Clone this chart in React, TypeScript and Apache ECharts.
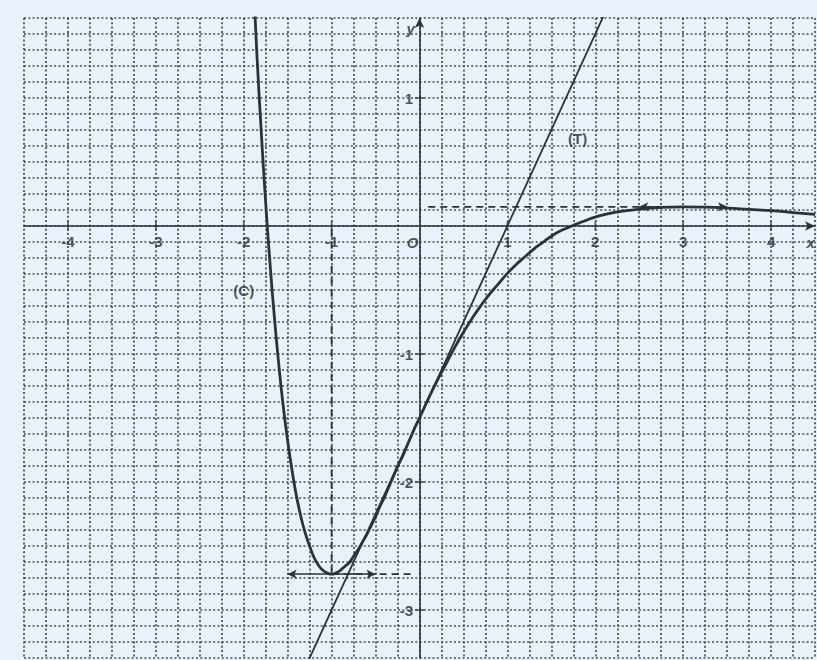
import React, { useEffect, useRef } from "react";
import * as echarts from "echarts";

// Curve (C): points [x, y]
const curveC: [number, number][] = [
  [-1.9, 2.04], [-1.85, 1.34], [-1.8, 0.73], [-1.75, 0.18], [-1.7, -0.3],
  [-1.65, -0.72], [-1.6, -1.09], [-1.55, -1.41], [-1.5, -1.68], [-1.45, -1.91],
  [-1.4, -2.11], [-1.35, -2.27], [-1.3, -2.4], [-1.25, -2.5], [-1.2, -2.59],
  [-1.15, -2.65], [-1.1, -2.69], [-1.05, -2.71], [-1.0, -2.72], [-0.95, -2.71],
  [-0.9, -2.69], [-0.85, -2.66], [-0.8, -2.63], [-0.75, -2.58], [-0.7, -2.53],
  [-0.65, -2.47], [-0.6, -2.41], [-0.55, -2.34], [-0.5, -2.27], [-0.45, -2.19],
  [-0.4, -2.12], [-0.35, -2.04], [-0.3, -1.96], [-0.25, -1.88], [-0.2, -1.81],
  [-0.15, -1.73], [-0.1, -1.65], [-0.05, -1.57], [0, -1.5], [0.1, -1.35],
  [0.2, -1.21], [0.3, -1.08], [0.4, -0.95], [0.5, -0.83], [0.6, -0.72],
  [0.7, -0.62], [0.8, -0.53], [0.9, -0.45], [1.0, -0.37], [1.1, -0.3],
  [1.2, -0.24], [1.3, -0.18], [1.4, -0.13], [1.5, -0.08], [1.6, -0.04],
  [1.7, -0.01], [1.8, 0.02], [1.9, 0.045], [2.0, 0.07], [2.25, 0.11],
  [2.5, 0.13], [2.75, 0.145], [3.0, 0.15], [3.25, 0.147], [3.5, 0.14],
  [3.75, 0.13], [4.0, 0.12], [4.25, 0.105], [4.5, 0.09],
];

// Tangent (T): two points of the straight line
const tangentT: [number, number][] = [[-1.3, -3.45], [2.12, 1.68]];

// Dashed guide lines
const guideMinVertical: [number, number][] = [[-1, -0.03], [-1, -2.72]];
const guideMinHorizontal: [number, number][] = [[-1, -2.72], [-0.05, -2.72]];
const guideMaxHorizontal: [number, number][] = [[0.1, 0.15], [3, 0.15]];

// Double-headed horizontal tangent arrows [x1, x2, y]
const arrowMin = [-1.5, -0.5, -2.72];
const arrowMax = [2.5, 3.5, 0.15];

// Tick marks / tick labels on the axes
const xTickValues = [-4, -3, -2, -1, 1, 2, 3, 4];
const yTickValues = [1, -1, -2, -3];

// Annotations
const annotations = [
  { name: "(C)", value: [-2.0, -0.5] },
  { name: "(T)", value: [1.8, 0.68] },
];
const axisNames = [
  { name: "x", value: [4.45, -0.13] },
  { name: "y", value: [-0.1, 1.54] },
  { name: "O", value: [-0.08, -0.13] },
];

const INK = "#2c3238";
const TEXT = "#262a2f";
const FONT = "Liberation Sans";

export default function App() {
  const ref = useRef<HTMLDivElement>(null);
  useEffect(() => {
    document.body.style.margin = "0";
    const chart = echarts.init(ref.current!, null, { renderer: "svg" });
    const gridLine = { show: true, lineStyle: { color: "#454c54", width: 1.7, type: [2, 2.3] } };
    const axisLine = {
      onZero: true,
      symbol: ["none", "arrow"],
      symbolSize: [7, 10],
      lineStyle: { color: INK, width: 1.6 },
    };
    const option: any = {
      animation: false,
      backgroundColor: "#e9f2fa",
      grid: { left: 24, right: 2, top: 18, bottom: 2, containLabel: false },
      xAxis: {
        type: "value",
        min: -4.5,
        max: 4.5,
        interval: 0.25,
        axisLine,
        axisTick: { show: false },
        axisLabel: { show: false },
        splitLine: gridLine,
      },
      yAxis: {
        type: "value",
        min: -3.375,
        max: 1.625,
        interval: 0.125,
        axisLine,
        axisTick: { show: false },
        axisLabel: { show: false },
        splitLine: gridLine,
      },
      series: [
        {
          name: "C",
          type: "line",
          data: curveC,
          smooth: true,
          showSymbol: false,
          symbol: "none",
          lineStyle: { color: INK, width: 2.8 },
          z: 5,
        },
        {
          name: "T",
          type: "line",
          data: tangentT,
          showSymbol: false,
          symbol: "none",
          lineStyle: { color: INK, width: 1.8 },
          z: 4,
        },
        ...[guideMinVertical, guideMinHorizontal, guideMaxHorizontal].map((d) => ({
          type: "line",
          data: d,
          showSymbol: false,
          symbol: "none",
          lineStyle: { color: INK, width: 1.8, type: [7, 5] },
          z: 3,
        })),
        {
          type: "line",
          data: [],
          markLine: {
            silent: true,
            symbol: ["arrow", "arrow"],
            symbolSize: [7, 9],
            label: { show: false },
            lineStyle: { color: INK, width: 1.5, type: "solid" },
            data: [
              [{ coord: [arrowMin[0], arrowMin[2]] }, { coord: [arrowMin[1], arrowMin[2]] }],
              [{ coord: [arrowMax[0], arrowMax[2]] }, { coord: [arrowMax[1], arrowMax[2]] }],
            ],
          },
          z: 4,
        },
        {
          type: "scatter",
          data: xTickValues.map((v) => [v, 0]),
          symbol: "rect",
          symbolSize: [1.6, 9],
          itemStyle: { color: INK },
          silent: true,
          label: {
            show: true,
            position: "bottom",
            distance: 3,
            formatter: (p: any) => String(p.value[0]),
            color: TEXT,
            fontSize: 15,
            fontWeight: "bold",
            fontFamily: FONT,
          },
          z: 6,
        },
        {
          type: "scatter",
          data: yTickValues.map((v) => [0, v]),
          symbol: "rect",
          symbolSize: [9, 1.6],
          itemStyle: { color: INK },
          silent: true,
          label: {
            show: true,
            position: "left",
            distance: 2,
            formatter: (p: any) => String(p.value[1]),
            color: TEXT,
            fontSize: 15,
            fontWeight: "bold",
            fontFamily: FONT,
          },
          z: 6,
        },
        {
          type: "scatter",
          data: annotations,
          symbolSize: 1,
          itemStyle: { color: "rgba(0,0,0,0)" },
          silent: true,
          label: {
            show: true,
            position: "inside",
            formatter: "{b}",
            color: TEXT,
            fontSize: 15,
            fontWeight: "bold",
            fontFamily: FONT,
          },
          z: 7,
        },
        {
          type: "scatter",
          data: axisNames,
          symbolSize: 1,
          itemStyle: { color: "rgba(0,0,0,0)" },
          silent: true,
          label: {
            show: true,
            position: "inside",
            formatter: "{b}",
            color: TEXT,
            fontSize: 15,
            fontStyle: "italic",
            fontWeight: "bold",
            fontFamily: FONT,
          },
          z: 7,
        },
      ],
    };
    chart.setOption(option);
    return () => chart.dispose();
  }, []);
  return <div ref={ref} style={{ width: 817, height: 660, background: "#e9f2fa" }} />;
}
